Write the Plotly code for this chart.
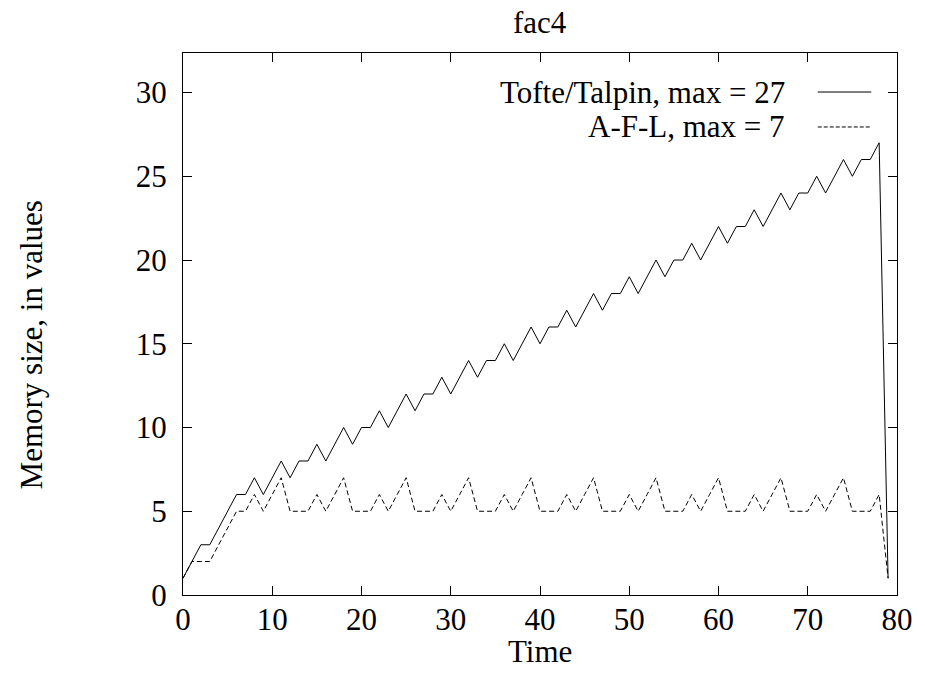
import plotly.graph_objects as go

time = list(range(80))

tofte_talpin = [1, 2, 3, 3, 4, 5, 6, 6, 7, 6, 7,
                8, 7, 8, 8, 9, 8, 9,
                10, 9, 10, 10, 11, 10, 11,
                12, 11, 12, 12, 13, 12, 13,
                14, 13, 14, 14, 15, 14, 15,
                16, 15, 16, 16, 17, 16, 17,
                18, 17, 18, 18, 19, 18, 19,
                20, 19, 20, 20, 21, 20, 21,
                22, 21, 22, 22, 23, 22, 23,
                24, 23, 24, 24, 25, 24, 25,
                26, 25, 26, 26, 27,
                1]

afl = [1, 2, 2, 2, 3, 4, 5, 5, 6, 5, 6,
       7, 5, 5, 5, 6, 5, 6,
       7, 5, 5, 5, 6, 5, 6,
       7, 5, 5, 5, 6, 5, 6,
       7, 5, 5, 5, 6, 5, 6,
       7, 5, 5, 5, 6, 5, 6,
       7, 5, 5, 5, 6, 5, 6,
       7, 5, 5, 5, 6, 5, 6,
       7, 5, 5, 5, 6, 5, 6,
       7, 5, 5, 5, 6, 5, 6,
       7, 5, 5, 5, 6,
       1]

series_names = ["Tofte/Talpin, max = 27", "A-F-L, max = 7"]
x_ticks = [0, 10, 20, 30, 40, 50, 60, 70, 80]
y_ticks = [0, 5, 10, 15, 20, 25, 30]

FONT = "Liberation Serif"
FS = 31

fig = go.Figure()
fig.add_trace(go.Scatter(x=time, y=tofte_talpin, mode="lines", name=series_names[0],
                         line=dict(color="black", width=1), showlegend=False))
fig.add_trace(go.Scatter(x=time, y=afl, mode="lines", name=series_names[1],
                         line=dict(color="black", width=1, dash="5px,3px"), showlegend=False))

axis_common = dict(showline=True, linecolor="black", linewidth=1, mirror="ticks",
                   ticks="inside", ticklen=9, tickcolor="black", tickwidth=1,
                   showgrid=False, zeroline=False,
                   tickfont=dict(family=FONT, size=FS, color="black"))

fig.update_xaxes(range=[0, 80], tickvals=x_ticks, ticklabelstandoff=-3, **axis_common)
fig.update_yaxes(range=[0, 32.36], tickvals=y_ticks, ticklabelstandoff=9, **axis_common)

annotations = [
    dict(text="fac4", x=0.5, y=1.056, xref="paper", yref="paper",
         xanchor="center", yanchor="middle", showarrow=False, borderpad=0),
    dict(text="Time", x=0.5, y=-0.104, xref="paper", yref="paper",
         xanchor="center", yanchor="middle", showarrow=False),
    dict(text="Memory size, in values", x=-0.2125, y=0.461, xref="paper", yref="paper",
         xanchor="center", yanchor="middle", textangle=-90, showarrow=False),
    dict(text=series_names[0], x=0.8458, y=0.928, xref="paper", yref="paper",
         xanchor="right", yanchor="middle", showarrow=False),
    dict(text=series_names[1], x=0.8458, y=0.8635, xref="paper", yref="paper",
         xanchor="right", yanchor="middle", showarrow=False),
]
for a in annotations:
    a["font"] = dict(family=FONT, size=FS, color="black")

shapes = [
    dict(type="line", xref="paper", yref="paper", x0=0.889, x1=0.964, y0=0.928, y1=0.928,
         line=dict(color="black", width=1)),
    dict(type="line", xref="paper", yref="paper", x0=0.889, x1=0.964, y0=0.8635, y1=0.8635,
         line=dict(color="black", width=1, dash="4px,2px")),
]

# page body adds an 8px offset, so the figure is 8px smaller and the margins compensate
fig.update_layout(width=917, height=668,
                  margin=dict(l=175, r=22, t=45, b=81),
                  paper_bgcolor="white", plot_bgcolor="white",
                  annotations=annotations, shapes=shapes,
                  font=dict(family=FONT, size=FS, color="black"))

fig.write_html("out.html")
